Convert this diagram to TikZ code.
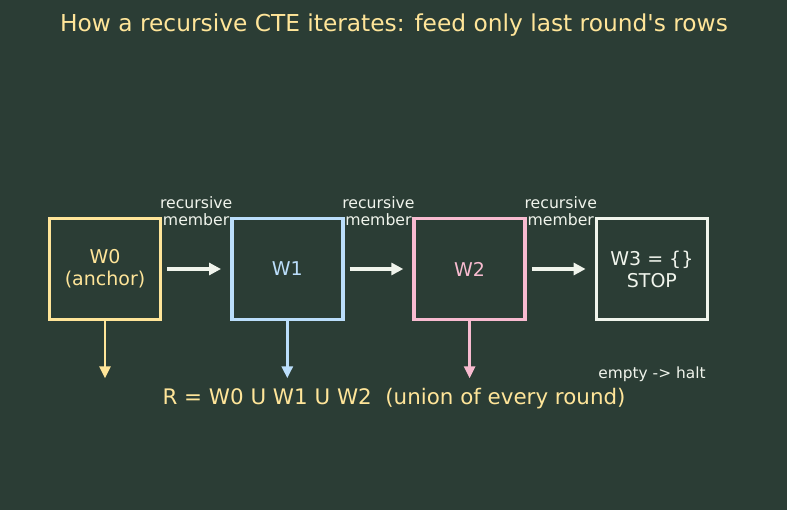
\documentclass[tikz,border=0pt]{standalone}
\usepackage{fontspec}
\setmainfont{DejaVu Sans}[Ligatures=TeXOff]
\usetikzlibrary{arrows.meta,positioning}
\definecolor{bgcol}{HTML}{2B3D35}
\definecolor{ylw}{HTML}{FFE599}
\definecolor{blu}{HTML}{BBDEFB}
\definecolor{pnk}{HTML}{F8BBD0}
\definecolor{wht}{HTML}{F0F4EC}
\begin{document}
\begin{tikzpicture}
[x=1pt, y=1pt, node distance=182.3pt,
ar/.style={-{Triangle[length=12pt,width=12pt]}, line width=3.6pt, wht, shorten <=5pt, shorten >=9pt},
dn/.style={-{Triangle[length=12pt,width=11pt]}, line width=2.8pt},
mynode/.style={
  draw, line width=3.6pt, minimum width=111pt, minimum height=101pt,
  align=center, font=\fontsize{19}{22}\selectfont
  }
]

\tikzstyle{anchornode} = [mynode, draw=ylw, text=ylw]
\tikzstyle{roundnode}  = [mynode, draw=blu, text=blu]
\tikzstyle{pinknode}   = [mynode, draw=pnk, text=pnk]
\tikzstyle{stopnode}   = [mynode, draw=wht, text=wht]
\tikzstyle{edgelabel}  = [text=wht, align=center, font=\fontsize{15.7}{17}\selectfont]

\fill[bgcol] (0,0) rectangle (787,-510);

\node[text=ylw, font=\fontsize{23.3}{27}\selectfont] (title) at (394,-25) {How a recursive CTE iterates: feed only last round's rows};

\node[anchornode] (w0) at (105,-269) {W0\\(anchor)};
\node[roundnode] (w1) [right of=w0] {W1};
\node[pinknode] (w2) [right of=w1] {W2};
\node[stopnode] (w3) [right of=w2] {W3 = \{\}\\STOP};

%edges

\draw[ar] (w0) -- node[edgelabel, above=38pt] {recursive\\member} (w1);
\draw[ar] (w1) -- node[edgelabel, above=38pt] {recursive\\member} (w2);
\draw[ar] (w2) -- node[edgelabel, above=38pt] {recursive\\member} (w3);

% union
\coordinate[below=57pt of w0.south] (d0);
\coordinate[below=57pt of w1.south] (d1);
\coordinate[below=57pt of w2.south] (d2);

\draw[dn, ylw] (w0.south) -- (d0);
\draw[dn, blu] (w1.south) -- (d1);
\draw[dn, pnk] (w2.south) -- (d2);

\node[text=wht, font=\fontsize{15.4}{18}\selectfont] (halt) at (652,-374) {empty -> halt};
\node[text=ylw, font=\fontsize{21.4}{25}\selectfont] (union) at (394,-399) {R = W0 U W1 U W2\ \ (union of every round)};

\end{tikzpicture}
\end{document}
